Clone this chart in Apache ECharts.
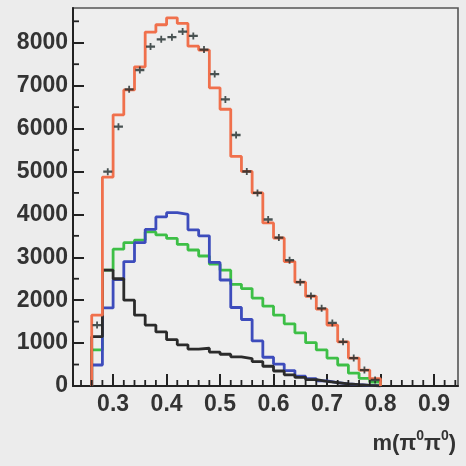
<!DOCTYPE html>
<html>
<head>
<meta charset="utf-8">
<script src="https://cdn.jsdelivr.net/npm/echarts@6/dist/echarts.min.js"></script>
<style>
  html, body { margin: 0; padding: 0; background: #ececec; }
  #chart { width: 466px; height: 466px; }
</style>
</head>
<body>
<div id="chart"></div>
<script>
// Lower edges of the 0.02-wide m(pi0 pi0) bins
const binLow = [0.26, 0.28, 0.30, 0.32, 0.34, 0.36, 0.38, 0.40, 0.42, 0.44,
                0.46, 0.48, 0.50, 0.52, 0.54, 0.56, 0.58, 0.60, 0.62, 0.64,
                0.66, 0.68, 0.70, 0.72, 0.74, 0.76, 0.78];
const binWidth = 0.02;

// Total fit (orange)
const totalFit = [1650, 4870, 6320, 6900, 7440, 8250, 8420, 8580, 8450, 7920,
                  7830, 6950, 6450, 5350, 5000, 4500, 3800, 3450, 2900, 2420,
                  2090, 1790, 1420, 1030, 650, 370, 170];
// Component 1 (blue)
const compBlue = [490, 1820, 2480, 2900, 3340, 3650, 3940, 4040, 4000, 3640,
                  3500, 2880, 2470, 1830, 1550, 1050, 670, 510, 360, 230,
                  170, 120, 80, 50, 30, 15, 5];
// Component 2 (green)
const compGreen = [840, 2700, 3190, 3340, 3400, 3590, 3520, 3440, 3300, 3170,
                   3030, 2840, 2700, 2370, 2270, 2050, 1860, 1650, 1450, 1240,
                   1010, 840, 650, 490, 300, 180, 90];
// Component 3 (black)
const compBlack = [1150, 2700, 2500, 2000, 1650, 1420, 1260, 1080, 960, 860,
                   880, 790, 740, 680, 640, 570, 460, 350, 260, 200,
                   150, 110, 80, 50, 30, 15, 5];
// Measured events per bin
const dataCounts = [1420, 4995, 6045, 6915, 7365, 7910, 8080, 8130, 8260, 8160,
                    7840, 7270, 6680, 5850, 5000, 4500, 3880, 3460, 2930, 2420,
                    2100, 1810, 1470, 1030, 650, 370, 140];

// Axis ticks and labels
const xMajorTicks = [0.3, 0.4, 0.5, 0.6, 0.7, 0.8, 0.9];
const xMinorTicks = [0.24, 0.26, 0.28, 0.32, 0.34, 0.36, 0.38, 0.42, 0.44, 0.46, 0.48,
                     0.52, 0.54, 0.56, 0.58, 0.62, 0.64, 0.66, 0.68, 0.72, 0.74, 0.76, 0.78,
                     0.82, 0.84, 0.86, 0.88, 0.92, 0.94];
const yMajorTicks = [0, 1000, 2000, 3000, 4000, 5000, 6000, 7000, 8000];
const yMinorTicks = [500, 1500, 2500, 3500, 4500, 5500, 6500, 7500, 8500];

const X_MIN = 0.225, X_MAX = 0.945, Y_MAX = 8810;

// Build a closed step outline for a histogram
function stepLine(values) {
  const pts = [[binLow[0], 0]];
  values.forEach((v, i) => pts.push([binLow[i], v]));
  const end = binLow[binLow.length - 1] + binWidth;
  pts.push([end, values[values.length - 1]]);
  pts.push([end, 0]);
  return pts;
}

function histSeries(values, color, z) {
  return {
    type: 'line',
    step: 'end',
    data: stepLine(values),
    showSymbol: false,
    symbol: 'none',
    z: z,
    lineStyle: { color: color, width: 2.8 },
    animation: false
  };
}

// Short inward minor ticks, placed through the axis scales
function minorTickSeries(points, dx, dy) {
  return {
    type: 'custom',
    data: points,
    clip: false,
    silent: true,
    z: 7,
    animation: false,
    renderItem: (params, api) => {
      const p = api.coord([api.value(0), api.value(1)]);
      return {
        type: 'line',
        shape: { x1: p[0], y1: p[1], x2: p[0] + dx, y2: p[1] + dy },
        style: { stroke: '#222', lineWidth: 1.8 }
      };
    }
  };
}

const font = '"Liberation Sans", Arial, sans-serif';
const labelStyle = { fontFamily: font, fontWeight: 'bold', fontSize: 23, color: '#333' };

const chart = echarts.init(document.getElementById('chart'), null, { renderer: 'canvas' });
chart.setOption({
  backgroundColor: '#ececec',
  animation: false,
  grid: {
    left: 73, top: 8, right: 8, bottom: 80,
    show: true, backgroundColor: '#eeeeee', borderColor: '#555', borderWidth: 1.6
  },
  xAxis: {
    type: 'value', min: X_MIN, max: X_MAX, position: 'bottom',
    axisLine: { show: true, onZero: false, lineStyle: { color: '#222', width: 2 } },
    axisTick: { show: true, inside: true, length: 12, customValues: xMajorTicks,
                lineStyle: { color: '#222', width: 2 } },
    axisLabel: { show: true, customValues: xMajorTicks, margin: 7,
                 formatter: v => v.toFixed(1), ...labelStyle },
    splitLine: { show: false }
  },
  yAxis: {
    type: 'value', min: 0, max: Y_MAX, position: 'left',
    axisLine: { show: true, onZero: false, lineStyle: { color: '#222', width: 2 } },
    axisTick: { show: true, inside: true, length: 11, customValues: yMajorTicks,
                lineStyle: { color: '#222', width: 2 } },
    axisLabel: { show: true, customValues: yMajorTicks, margin: 5,
                 formatter: v => String(v), ...labelStyle },
    splitLine: { show: false }
  },
  series: [
    histSeries(compGreen, '#3dbf46', 2),
    histSeries(compBlue, '#3d4cbc', 3),
    histSeries(compBlack, '#2b2b2b', 4),
    histSeries(totalFit, '#f0704c', 5),
    {
      type: 'scatter',
      data: dataCounts.map((v, i) => [binLow[i] + binWidth / 2, v]),
      symbol: 'path://M0,3H10V6H0Z M4,0H6V9H4Z',
      symbolSize: [9, 7],
      itemStyle: { color: '#1e2a2a' },
      z: 6,
      animation: false
    },
    minorTickSeries(xMinorTicks.map(t => [t, 0]), 0, -6),
    minorTickSeries(yMinorTicks.map(t => [X_MIN, t]), 6, 0)
  ],
  graphic: [
    {
      type: 'text', right: 10, top: 429,
      style: {
        text: '{a|m(π}{s|0}{a|π}{s|0}{a|)}',
        rich: {
          a: { fontFamily: font, fontWeight: 'bold', fontSize: 22, fill: '#333', color: '#333' },
          s: { fontFamily: font, fontWeight: 'bold', fontSize: 14, fill: '#333', color: '#333',
               verticalAlign: 'top', lineHeight: 30 }
        }
      }
    }
  ]
});
</script>
</body>
</html>
